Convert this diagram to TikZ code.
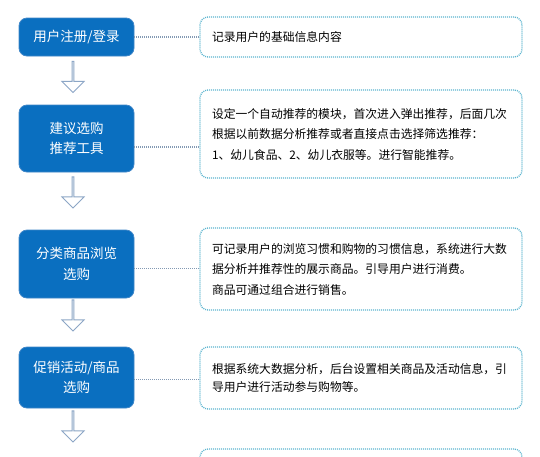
\documentclass[tikz,border=0pt]{standalone}
\usepackage{fontspec}
\setmainfont{Noto Sans CJK SC}
\usetikzlibrary{shapes.arrows}
\definecolor{stepblue}{HTML}{0A6FC0}
\definecolor{stepedge}{HTML}{3F86C8}
\definecolor{notecyan}{HTML}{5AB4CF}
\definecolor{linkgray}{HTML}{8399B3}
\definecolor{arrowgray}{HTML}{8CA6C6}
\begin{document}
\begin{tikzpicture}[x=1pt,y=-1pt,
  stepbox/.style={draw=stepedge,fill=stepblue,rounded corners=8pt,line width=0.8pt,
    text=white,minimum width=115pt,align=center,
    font=\fontsize{13.5pt}{20.5pt}\selectfont},
  notebox/.style={draw=notecyan,rounded corners=8pt,line width=1.3pt,
    dash pattern=on 1pt off 1pt,minimum width=322pt,text width=298pt,
    inner xsep=12pt,align=left,font=\fontsize{11.8pt}{20.5pt}\selectfont},
  downarrow/.style={single arrow,draw=arrowgray,fill=white,line width=1pt,
    shape border rotate=270,minimum height=31pt,minimum width=22pt,
    single arrow head extend=5.5pt,inner sep=0pt},
  link/.style={draw=linkgray,line width=1.3pt,dash pattern=on 1pt off 1pt}]
  \useasboundingbox[fill=white] (0,0) rectangle (540,456);
  % steps on the left
  \node[stepbox,minimum height=38pt] (b1) at (76.5,37) {用户注册/登录};
  \node[stepbox,minimum height=67pt] (b2) at (76.5,138.5) {建议选购\\推荐工具};
  \node[stepbox,minimum height=68pt] (b3) at (76.5,264) {分类商品浏览\\选购};
  \node[stepbox,minimum height=61pt] (b4) at (76.5,377.5) {促销活动/商品\\选购};
  % notes on the right
  \node[notebox,minimum height=40pt] (n1) at (361,37) {记录用户的基础信息内容};
  \node[notebox,minimum height=88pt] (n2) at (361,134)
    {设定一个自动推荐的模块，首次进入弹出推荐，后面几次\\
     根据以前数据分析推荐或者直接点击选择筛选推荐：\\
     1、幼儿食品、2、幼儿衣服等。进行智能推荐。};
  \node[notebox,minimum height=82pt] (n3) at (361,269)
    {可记录用户的浏览习惯和购物的习惯信息，系统进行大数\\
     据分析并推荐性的展示商品。引导用户进行消费。\\
     商品可通过组合进行销售。};
  \node[notebox,minimum height=62pt,font=\fontsize{11.8pt}{18pt}\selectfont] (n4) at (361,378)
    {根据系统大数据分析，后台设置相关商品及活动信息，引\\
     导用户进行活动参与购物等。};
  \begin{scope}
    \clip (0,0) rectangle (540,456);
    \node[notebox,minimum height=62pt] (n5) at (361,480) {};
  \end{scope}
  % hollow arrows between the steps
  \foreach \y/\name in {76.5/a1,192/a2,315/a3,426/a4}
    \node[downarrow] (\name) at (73,\y) {};
  % dotted links
  \foreach \i/\d in {1/0,2/8.5,3/4.5,4/2} {
    \path ([yshift=-\d pt]b\i.east) coordinate (s\i);
    \draw[link] (s\i) -- (s\i -| n\i.west);
  }
\end{tikzpicture}
\end{document}
